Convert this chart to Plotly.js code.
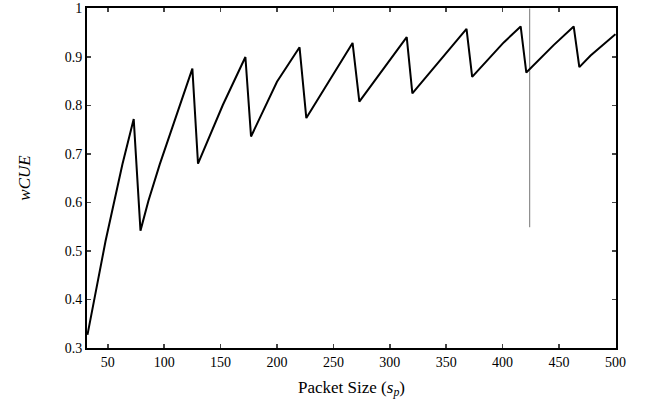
<!DOCTYPE html>
<html>
<head>
<meta charset="utf-8">
<script src="https://cdn.plot.ly/plotly-3.0.1.min.js"></script>
<style>html,body{margin:0;padding:0;background:#fff;}#chart{width:656px;height:414px;}</style>
</head>
<body>
<div id="chart"></div>
<script>
const packetSize = [32, 48, 63, 73, 79, 86, 96, 110, 125, 130, 152, 172, 177, 200, 220, 226, 244, 267, 273, 315, 320, 368, 373, 401, 416, 421, 445, 463, 468, 478, 500];
const wcue = [0.327, 0.52, 0.679, 0.772, 0.542, 0.603, 0.678, 0.774, 0.876, 0.680, 0.801, 0.900, 0.736, 0.849, 0.920, 0.774, 0.842, 0.929, 0.808, 0.941, 0.825, 0.958, 0.859, 0.930, 0.963, 0.868, 0.924, 0.963, 0.879, 0.903, 0.947];
const markerX = [424, 424];
const markerY = [1, 0.549];
const xTicks = [50, 100, 150, 200, 250, 300, 350, 400, 450, 500];
const yTicks = [0.3, 0.4, 0.5, 0.6, 0.7, 0.8, 0.9, 1];

const font = {family: 'Liberation Serif, Times New Roman, serif', color: '#000'};
const traces = [
  {x: markerX, y: markerY, mode: 'lines', line: {color: '#777', width: 1}, hoverinfo: 'skip', showlegend: false},
  {x: packetSize, y: wcue, mode: 'lines', line: {color: '#000', width: 2}, showlegend: false}
];
const layout = {
  width: 656, height: 414,
  margin: {l: 87, r: 40, t: 8, b: 66},
  paper_bgcolor: '#fff', plot_bgcolor: '#fff',
  font: Object.assign({size: 14}, font),
  xaxis: {
    range: [31.6, 500.5], tickvals: xTicks, ticks: 'inside', ticklen: 4, tickwidth: 1.5,
    showline: true, linewidth: 2, linecolor: '#000', mirror: 'ticks', showgrid: false, zeroline: false,
    tickfont: Object.assign({size: 14}, font), ticklabeloverflow: 'allow',
    title: {text: 'Packet Size (<i>s</i><sub><i>p</i></sub>)', font: Object.assign({size: 17}, font), standoff: 12},
    automargin: false
  },
  yaxis: {
    range: [0.3, 1.001], tickvals: yTicks, ticks: 'inside', ticklen: 4, tickwidth: 1.5,
    showline: true, linewidth: 2, linecolor: '#000', mirror: 'ticks', showgrid: false, zeroline: false,
    tickfont: Object.assign({size: 14}, font), ticklabeloverflow: 'allow',
    title: {text: '<i>wCUE</i>', font: Object.assign({size: 17}, font), standoff: 30},
    automargin: false
  }
};
Plotly.newPlot('chart', traces, layout, {displayModeBar: false, staticPlot: true});
</script>
</body>
</html>
